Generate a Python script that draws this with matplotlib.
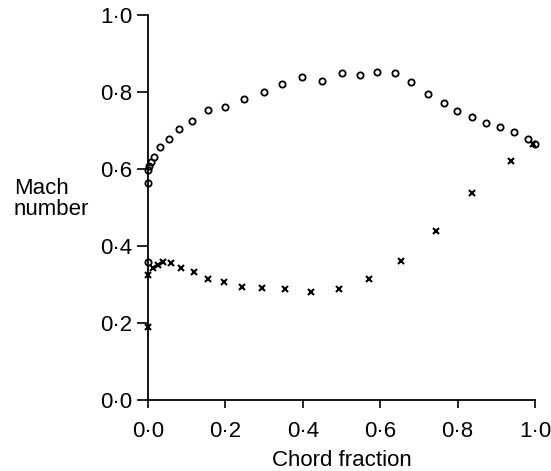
import numpy as np
import matplotlib
matplotlib.use('Agg')
import matplotlib.pyplot as plt
import matplotlib.ticker as mticker

plt.rcParams['font.family'] = ['Liberation Sans', 'DejaVu Sans']

# --- upper surface (circles) ---
upper_x = [0.0, 0.0, 0.001, 0.003, 0.008, 0.016, 0.031, 0.053, 0.080, 0.114,
           0.154, 0.200, 0.249, 0.299, 0.347, 0.399, 0.449, 0.501, 0.549,
           0.593, 0.638, 0.679, 0.723, 0.764, 0.799, 0.836, 0.873, 0.909,
           0.946, 0.983, 1.001]
upper_m = [0.359, 0.563, 0.597, 0.608, 0.619, 0.632, 0.658, 0.678, 0.703, 0.725,
           0.753, 0.761, 0.781, 0.800, 0.820, 0.839, 0.829, 0.849, 0.843,
           0.853, 0.849, 0.827, 0.796, 0.771, 0.750, 0.734, 0.719, 0.708,
           0.697, 0.678, 0.664]

# --- lower surface (crosses) ---
lower_x = [0.0, 0.001, 0.014, 0.025, 0.040, 0.060, 0.085, 0.118, 0.155, 0.197,
           0.244, 0.295, 0.355, 0.421, 0.494, 0.570, 0.653, 0.743, 0.838,
           0.939, 0.994]
lower_m = [0.190, 0.325, 0.342, 0.351, 0.358, 0.355, 0.344, 0.333, 0.314, 0.307,
           0.294, 0.292, 0.288, 0.280, 0.288, 0.315, 0.362, 0.440, 0.538,
           0.622, 0.665]

ticks = [0.0, 0.2, 0.4, 0.6, 0.8, 1.0]

fig = plt.figure(figsize=(5.51, 4.71), dpi=100)
ax = fig.add_axes([148 / 551, 1 - 400 / 471, 387 / 551, 385 / 471])

ax.plot(upper_x, upper_m, linestyle='none', marker='o', markersize=4.5,
        markerfacecolor='none', markeredgecolor='black', markeredgewidth=1.3,
        clip_on=False)
ax.plot(lower_x, lower_m, linestyle='none', marker='x', markersize=5,
        color='black', markeredgewidth=1.5, clip_on=False)

ax.set_xlim(0, 1.0)
ax.set_ylim(0, 1.0)
ax.set_xticks(ticks)
ax.set_yticks(ticks)
fmt = mticker.FuncFormatter(lambda v, p: f'{v:.1f}'.replace('.', '\u00b7'))
ax.xaxis.set_major_formatter(fmt)
ax.yaxis.set_major_formatter(fmt)

for s in ['top', 'right']:
    ax.spines[s].set_visible(False)
for s in ['left', 'bottom']:
    ax.spines[s].set_linewidth(1.3)
ax.tick_params(direction='out', width=1.2, labelsize=16)
ax.tick_params(axis='y', length=8, pad=3)
ax.tick_params(axis='x', length=6, pad=9)

ax.set_xlabel('Chord fraction', fontsize=16, labelpad=6)
fig.text(14 / 551, 1 - 199 / 471, 'Mach\nnumber', ha='left', va='center',
         fontsize=16, linespacing=0.95)

fig.savefig('out.png', dpi=100)
